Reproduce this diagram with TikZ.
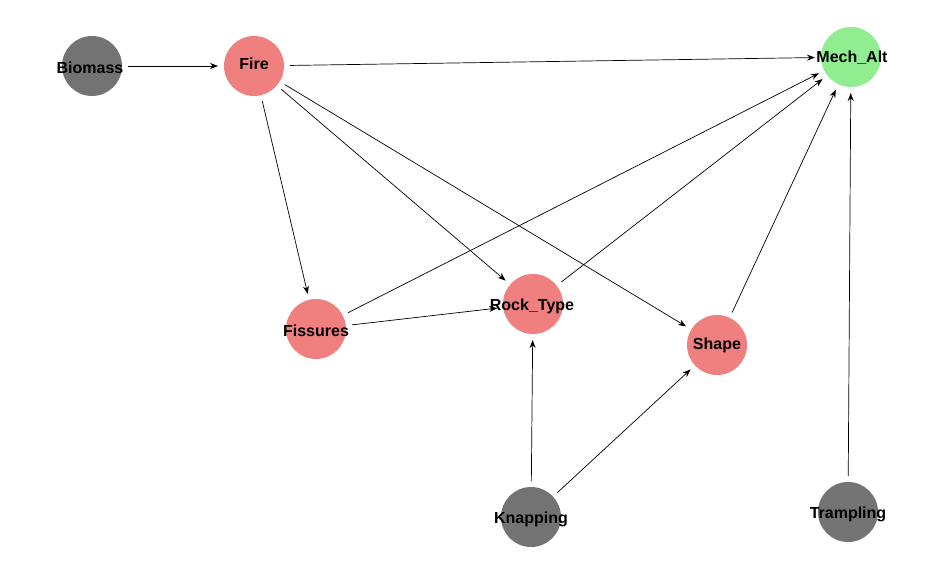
\documentclass[tikz,border=0pt]{standalone}
\usepackage{fontspec}
\setmainfont{Liberation Sans}
\usetikzlibrary{arrows.meta}
\begin{document}
\begin{tikzpicture}[x=1pt,y=-1pt,
  vtx/.style={circle,minimum size=60pt,inner sep=0pt,outer sep=6pt},
  lbl/.style={font=\bfseries\fontsize{16}{17}\selectfont,inner sep=0pt},
  grayv/.style={vtx,fill={rgb,255:red,115;green,115;blue,115}},
  redv/.style={vtx,fill={rgb,255:red,240;green,128;blue,128}},
  greenv/.style={vtx,fill={rgb,255:red,144;green,238;blue,144}},
  edge/.style={-{Stealth[length=8pt,width=6pt]},line width=0.7pt}]
\useasboundingbox (0,0) rectangle (940,579);
\fill[white] (0,0) rectangle (940,579);
\node[grayv] (bio) at (92,66) {};
\node[redv] (fire) at (254,66) {};
\node[greenv] (mech) at (851,57) {};
\node[redv] (fis) at (316,329) {};
\node[redv] (rock) at (533,304) {};
\node[redv] (shape) at (717,345) {};
\node[grayv] (knap) at (531,517) {};
\node[grayv] (tramp) at (848,512) {};
\draw[edge] (bio) -- (fire);
\draw[edge] (fire) -- (mech);
\draw[edge] (fire) -- (fis);
\draw[edge] (fire) -- (rock);
\draw[edge] (fire) -- (shape);
\draw[edge] (fis) -- (mech);
\draw[edge] (fis) -- (rock);
\draw[edge] (rock) -- (mech);
\draw[edge] (shape) -- (mech);
\draw[edge] (knap) -- (rock);
\draw[edge] (knap) -- (shape);
\draw[edge] (tramp) -- (mech);
\node[lbl] (bioL) at (90,68) {Biomass};
\node[lbl] (fireL) at (254,64) {Fire};
\node[lbl] (mechL) at (852,58) {Mech\_Alt};
\node[lbl] (fisL) at (316,331) {Fissures};
\node[lbl] (rockL) at (532,306) {Rock\_Type};
\node[lbl] (shapeL) at (717,345) {Shape};
\node[lbl] (knapL) at (531,519) {Knapping};
\node[lbl] (trampL) at (848,514) {Trampling};
\end{tikzpicture}
\end{document}
